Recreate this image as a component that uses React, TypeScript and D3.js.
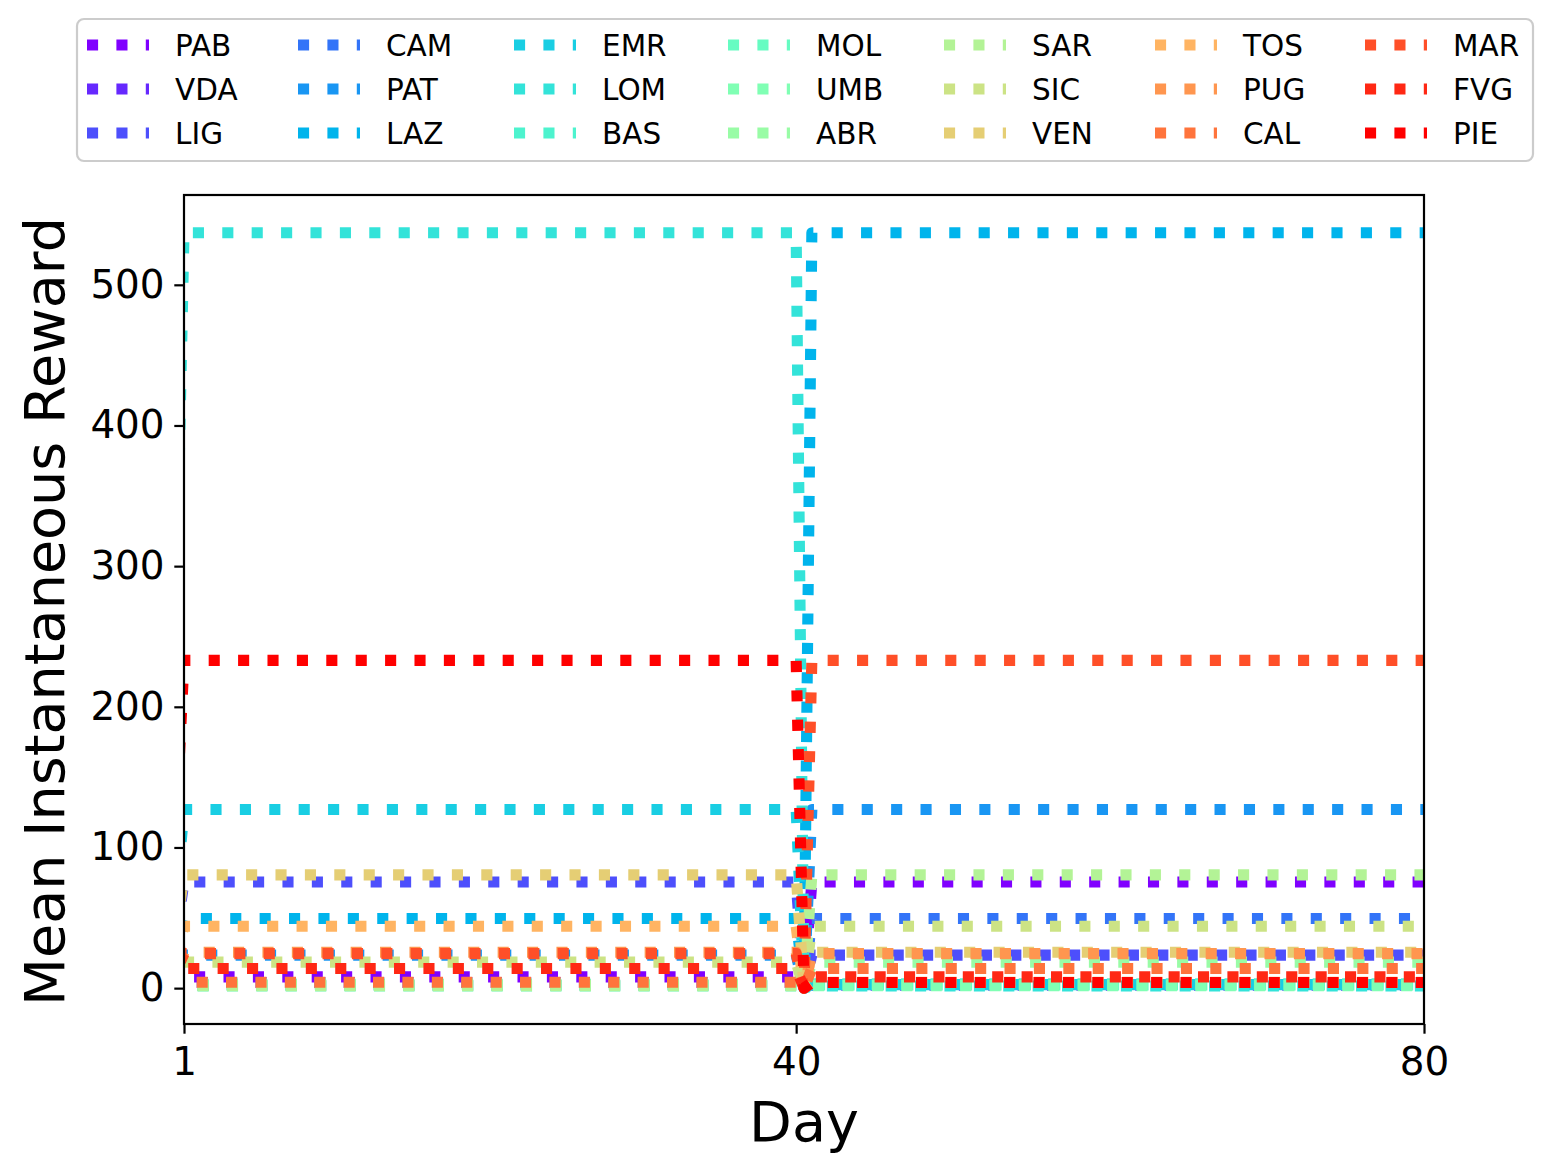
import { axisBottom, axisLeft, line as d3Line, scaleLinear, select } from 'd3';
import { useEffect, useRef } from 'react';

// regions, in plotting (and legend) order
const regions = [
  'PAB', 'VDA', 'LIG', 'CAM', 'PAT', 'LAZ', 'EMR', 'LOM', 'BAS', 'MOL', 'UMB',
  'ABR', 'SAR', 'SIC', 'VEN', 'TOS', 'PUG', 'CAL', 'MAR', 'FVG', 'PIE',
];

// reward held over days 1-40
const firstPhase = [
  8, 4, 75.5, 2.0, 23.5, 49.5, 127, 537, 2.5, 1.5, 3.0,
  2.2, 1.8, 18.5, 80.5, 44, 25.5, 4.2, 24.5, 14, 233,
];

// reward held over days 41-80
const secondPhase = [
  75.5, 2.0, 23.5, 49.5, 127, 537, 2.5, 1.5, 3.0, 2.2, 1.8,
  18.5, 80.5, 44, 25.5, 4.2, 24.5, 14, 233, 8, 4,
];

// days where each curve changes: start, phase 1, reset, phase 2
const phaseDays = [0, 1, 40, 40.5, 41, 80];

const xTicks = [1, 40, 80];
const yTicks = [0, 100, 200, 300, 400, 500];

const W = 1552;
const H = 1170;
const MARGINS = { left: 184, right: 1424, top: 195, bottom: 1024 };
const FONT = 'DejaVu Sans, sans-serif';
const DASH = '11.1 18.3';

// matplotlib "rainbow" colormap
const rainbow = (t: number) => {
  const r = Math.min(1, Math.abs(2 * t - 0.5));
  const g = Math.sin(Math.PI * t);
  const b = Math.max(0, Math.cos((Math.PI * t) / 2));
  return `rgb(${Math.round(r * 255)},${Math.round(g * 255)},${Math.round(b * 255)})`;
};

const App = () => {
  const svgElem = useRef<SVGSVGElement>(null);

  useEffect(() => {
    document.body.style.margin = '0';
    if (!svgElem.current) {
      return;
    }
    const svg = select(svgElem.current);
    svg.selectAll('*').remove();

    const xScale = scaleLinear().domain([1, 80]).range([MARGINS.left, MARGINS.right]);
    const yScale = scaleLinear().domain([-25.5, 563.85]).range([MARGINS.bottom, MARGINS.top]);

    svg
      .append('defs')
      .append('clipPath')
      .attr('id', 'plot-clip')
      .append('rect')
      .attr('x', MARGINS.left)
      .attr('y', MARGINS.top)
      .attr('width', MARGINS.right - MARGINS.left)
      .attr('height', MARGINS.bottom - MARGINS.top);

    svg.append('rect').attr('width', W).attr('height', H).attr('fill', 'white');

    // curves
    const line = d3Line<[number, number]>()
      .x((d) => xScale(d[0]))
      .y((d) => yScale(d[1]));

    const lines = svg.append('g').attr('clip-path', 'url(#plot-clip)');
    regions.forEach((name, i) => {
      const values = [0, firstPhase[i], firstPhase[i], 0, secondPhase[i], secondPhase[i]];
      const pts = phaseDays.map((d, k) => [d, values[k]] as [number, number]);
      lines
        .append('path')
        .attr('d', line(pts))
        .attr('fill', 'none')
        .attr('stroke', rainbow(i / (regions.length - 1)))
        .attr('stroke-width', 11.1)
        .attr('stroke-dasharray', DASH)
        .attr('stroke-linejoin', 'round')
        .attr('stroke-linecap', 'butt');
    });

    // axes
    const xAxis = axisBottom(xScale).tickValues(xTicks).tickSize(9.7).tickPadding(13.5);
    const yAxis = axisLeft(yScale).tickValues(yTicks).tickSize(9.7).tickPadding(9.7);

    const gx = svg
      .append('g')
      .attr('transform', `translate(0, ${MARGINS.bottom})`)
      // @ts-expect-error: d3 typing mismatch
      .call(xAxis);
    const gy = svg
      .append('g')
      .attr('transform', `translate(${MARGINS.left}, 0)`)
      // @ts-expect-error: d3 typing mismatch
      .call(yAxis);
    [gx, gy].forEach((g) => {
      g.select('.domain').remove();
      g.selectAll('line').attr('stroke', 'black').attr('stroke-width', 2.2);
      g.selectAll('text')
        .attr('font-family', FONT)
        .attr('font-size', 38.9)
        .attr('fill', 'black');
    });

    svg
      .append('rect')
      .attr('x', MARGINS.left)
      .attr('y', MARGINS.top)
      .attr('width', MARGINS.right - MARGINS.left)
      .attr('height', MARGINS.bottom - MARGINS.top)
      .attr('fill', 'none')
      .attr('stroke', 'black')
      .attr('stroke-width', 2.2);

    // axis labels
    svg
      .append('text')
      .attr('x', (MARGINS.left + MARGINS.right) / 2)
      .attr('y', 1141)
      .attr('text-anchor', 'middle')
      .attr('font-family', FONT)
      .attr('font-size', 55.6)
      .text('Day');
    svg
      .append('text')
      .attr('transform', `translate(64, ${(MARGINS.top + MARGINS.bottom) / 2 + 2}) rotate(-90)`)
      .attr('text-anchor', 'middle')
      .attr('font-family', FONT)
      .attr('font-size', 55.6)
      .text('Mean Instantaneous Reward');

    // legend
    const colX = [87, 298, 514, 728, 944, 1155, 1365];
    const rowY = [45, 89, 133];
    const legend = svg.append('g');
    legend
      .append('rect')
      .attr('x', 77)
      .attr('y', 19)
      .attr('width', 1456)
      .attr('height', 142)
      .attr('rx', 7)
      .attr('fill', 'white')
      .attr('fill-opacity', 0.8)
      .attr('stroke', '#cccccc')
      .attr('stroke-width', 2.2);
    regions.forEach((name, i) => {
      const cx = colX[Math.floor(i / 3)];
      const cy = rowY[i % 3];
      legend
        .append('line')
        .attr('x1', cx)
        .attr('x2', cx + 62)
        .attr('y1', cy)
        .attr('y2', cy)
        .attr('stroke', rainbow(i / (regions.length - 1)))
        .attr('stroke-width', 11.1)
        .attr('stroke-dasharray', DASH);
      legend
        .append('text')
        .attr('x', cx + 88)
        .attr('y', cy + 10.7)
        .attr('font-family', FONT)
        .attr('font-size', 29.5)
        .text(name);
    });
  }, []);

  return <svg ref={svgElem} width={W} height={H} style={{ display: 'block' }} />;
};

export default App;
